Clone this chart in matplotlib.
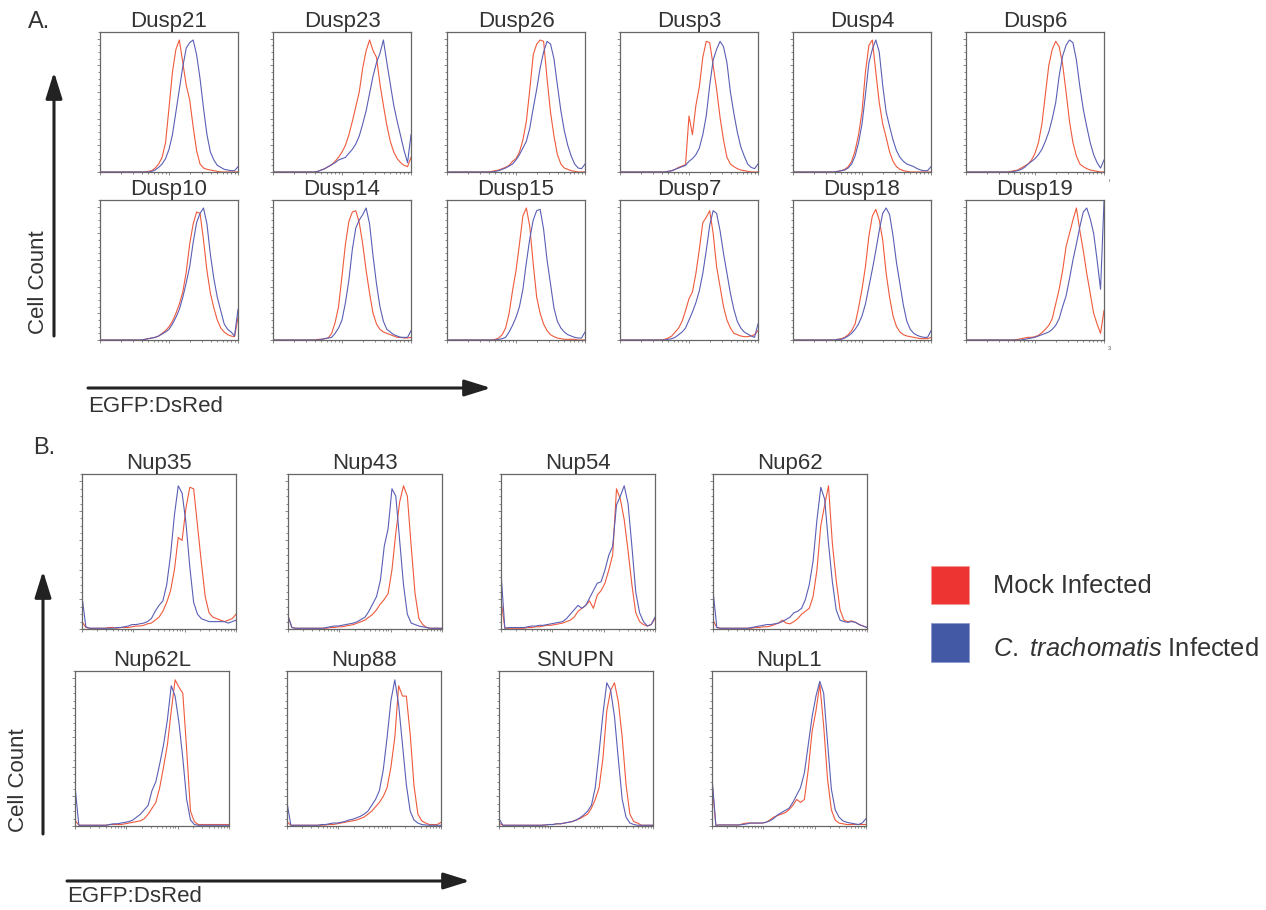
import numpy as np
import matplotlib.pyplot as plt
from matplotlib.patches import Rectangle
from matplotlib.ticker import LogLocator, MultipleLocator

plt.rcParams['font.family'] = ['Liberation Sans', 'DejaVu Sans']
plt.rcParams['mathtext.fontset'] = 'custom'
plt.rcParams['mathtext.it'] = 'Liberation Sans:italic'
plt.rcParams['mathtext.rm'] = 'Liberation Sans'

MOCK = '#ef5a3c'   # mock infected (red)
CT = '#5a5fb5'     # C. trachomatis infected (blue)
TXT = '#333333'

# channel positions (log scale): A panels span 2 decades, B panels 3 decades
bins_a = np.logspace(0, 2, 41)
bins_b = np.logspace(0, 3, 41)

# ---- panel A: Dusp reporters (% of max) ----
dusp21_mock = [0,0,0,0,0,0,0,0,0,0, 0,0,0,0,0.5,1,3,6,11,22, 48,75,92,99,82,65,54,34,16,6, 3,2,1.5,1,0.5,0,0,0,0,0,0]
dusp21_ct = [0,0,0,0,0,0,0,0,0,0, 0,0,0,0,0,0.5,1.5,3.5,6,10, 17,28,45,62,79,93,97,99,88,70, 48,28,15,9,5,3.5,2,1.5,1,1,4]
dusp23_mock = [0,0,0,0,0,0,0,0,0,0, 0,0,0,0.5,1.5,2.5,4,5.5,8,11, 15,20,28,38,49,60,78,91,99,91, 86,66,50,35,23,15,10,7,5,4,11]
dusp23_ct = [0,0,0,0,0,0,0,0,0,0, 0,0,0,0.5,1.5,2.5,4,5.5,7,9, 10,11,14,17,21,27,36,46,59,72, 82,89,99,82,66,50,38,27,16,7,28]
dusp26_mock = [0,0,0,0,0,0,0,0,0,0, 0,0,0,0.5,1,1.5,2.5,3.5,5,8, 10,15,24,38,62,88,96,99,98,70, 45,27,13,6,3,2,1,0.5,0,0,0]
dusp26_ct = [0,0,0,0,0,0,0,0,0,0, 0,0,0,0,0.5,1,2,3,4.5,6, 9,13,18,23,33,48,62,78,90,98, 96,85,65,46,31,20,12,6,3,2.5,6]
dusp3_mock = [0,0,0,0,0,0,0,0,0,0, 0,0,0,0,0.5,1,2,3.5,4.5,5.5, 42,28,50,64,86,98,97,80,62,41, 24,11,6,4,2.5,1.5,1,0.5,0,0,0]
dusp3_ct = [0,0,0,0,0,0,0,0,0,0, 0,0,0,0,0.5,1,2,3,4,5, 8,10,13,18,28,42,65,84,92,98, 94,82,60,44,30,19,12,6,3.5,2.5,6]
dusp4_mock = [0,0,0,0,0,0,0,0,0,0, 0,0,0,0.5,1,2,4,8,16,28, 45,75,95,99,75,52,36,26,15,8, 4,2,1,0.5,0,0,0,0,0,0,0]
dusp4_ct = [0,0,0,0,0,0,0,0,0,0, 0,0,0,0.5,1,1.5,3,6,12,22, 36,58,82,92,99,90,65,45,34,24, 16,11,8,6,5,4,2.5,1.5,1,1,4]
dusp6_mock = [0,0,0,0,0,0,0,0,0,0, 0,0,0,0.5,1,1.5,3,4.5,6,9, 14,22,36,58,80,92,98,94,81,60, 38,22,12,6,4,2.5,1.5,1,0.5,0,0]
dusp6_ct = [0,0,0,0,0,0,0,0,0,0, 0,0,0,0,0.5,1,2,3.5,6,8, 10,13,17,23,30,40,52,72,87,95, 99,97,84,64,47,34,22,13,7,3,9]
dusp10_mock = [0,0,0,0,0,0,0,0,0,0, 0,0,0,0.5,1,1.5,2,3,5,7, 10,14,20,27,36,51,72,87,96,95, 75,52,35,24,15,9,6,4,3,2.5,17]
dusp10_ct = [0,0,0,0,0,0,0,0,0,0, 0,0,0,0.5,1,1.5,2,3,4.5,6, 8,12,17,23,32,43,55,73,88,95, 99,87,64,46,32,22,12,8,6,3,23]
dusp14_mock = [0,0,0,0,0,0,0,0,0,0, 0,0,0,0.5,0.5,1,1.5,5,13,25, 48,72,89,96,97,88,72,52,35,20, 12,8,6,5,4,3,2,2,1.5,1.5,2]
dusp14_ct = [0,0,0,0,0,0,0,0,0,0, 0,0,0,0,0.5,1,1.5,2,5,9, 15,28,45,68,84,90,94,99,87,63, 42,25,14,8,6,4,3,2,2,2,7]
dusp15_mock = [0,0,0,0,0,0,0,0,0,0, 0,0,0,0,0.5,1.5,4,9,20,37, 52,72,93,99,85,57,32,20,12,7, 4,2.5,1.5,1,0.5,0.5,0.5,0.5,0,0,0]
dusp15_ct = [0,0,0,0,0,0,0,0,0,0, 0,0,0,0,0,0.5,1,2,6,11, 17,25,38,58,76,90,97,98,83,60, 42,24,14,9,6,4,3,2,1.5,1.5,6]
dusp7_mock = [0,0,0,0,0,0,0,0,0,0, 0,0,0,0.5,1.5,3,6,9,14,22, 31,36,50,68,88,92,97,80,55,40, 25,15,9,5,4,3,2.5,2.5,3,4,7]
dusp7_ct = [0,0,0,0,0,0,0,0,0,0, 0,0,0,0,0.5,1,2,4,6,9, 15,21,28,37,50,67,86,97,95,82, 65,50,35,23,14,9,6,4.5,3,2,12]
dusp18_mock = [0,0,0,0,0,0,0,0,0,0, 0,0,0,0.5,1,2,4,7,12,24, 38,55,78,93,98,90,75,50,32,18, 10,6,4,3,2.5,2,1.5,1,1,1,2]
dusp18_ct = [0,0,0,0,0,0,0,0,0,0, 0,0,0,0.5,0.5,1.5,3,5,8,12, 18,27,40,53,67,82,95,99,94,78, 58,42,26,14,8,5,3.5,2.5,2,2,7]
dusp19_mock = [0,0,0,0,0,0,0,0,0,0, 0,0,0,0,0,0.5,1,1.5,2,2, 2.5,3.5,5.5,8,11,16,27,38,52,70, 80,90,99,82,67,50,35,20,12,5,22]
dusp19_ct = [0,0,0,0,0,0,0,0,0,0, 0,0,0,0,0,0,0,0.5,1,1.5, 2,3,4,5,6,8,11,16,25,33, 46,60,72,85,96,99,91,80,60,38,104]

# ---- panel B: Nup reporters (% of max) ----
nup35_mock = [5,1,0.5,0.5,0.5,0.5,0.5,1,1,0.5, 1,1,1,1.5,2,2,2.5,3.5,4,6, 8,12,18,26,40,62,60,82,96,95, 70,45,22,11,8,7,6,5,6,7,10]
nup35_ct = [22,1.5,0.5,0.5,0.5,0.5,0.5,0.5,0.5,1, 1,1.5,2,3,3,3.5,4,5,7,12, 16,19,30,50,77,97,92,72,42,18, 10,7,6,5,5,5,5,5,4,5,6]
nup43_mock = [9,1,0.5,0.5,0.5,0.5,0.5,0.5,0.5,0.5, 0.5,1,1,1.5,1.5,2,2.5,3,4,5, 6,8,10,13,17,20,24,40,65,86, 97,90,56,24,7,3,1,0.5,0.5,0.5,0.5]
nup43_ct = [9,1,0.5,0.5,0.5,0.5,0.5,0.5,0.5,0.5, 1,1.5,2,2,2.5,3,3.5,4,5,6.5, 8,12,17,22,33,56,68,95,90,60, 30,10,4,3,2,1.5,1,0.5,0.5,0.5,0.5]
nup54_mock = [20,0.5,0.5,0.5,0.5,0.5,0.5,1,1,1.5, 1.5,2,2.5,2.5,3,3.5,4,5,6,8, 12,14,16,19,14,23,26,31,40,50, 95,88,74,53,30,11,5,3,2,3,7]
nup54_ct = [38,0.5,1,1,1,1,1,1.5,2,2, 2.5,2.5,3,3.5,4,4.5,5,7,10,13, 16,14,16,21,26,31,32,40,50,56, 84,90,97,85,56,25,11,5,2,3,8]
nup62_mock = [6,1,0.5,0.5,0.5,0.5,0.5,0.5,0.5,0.5, 0.5,1,1,1.5,1.5,2,3,4,6,4, 3.5,5,7,10,12,14,22,40,70,84, 97,58,33,13,6,5,5.5,4.5,3,2,1]
nup62_ct = [26,1,0.5,0.5,0.5,0.5,0.5,0.5,0.5,0.5, 1,1.5,2,2.5,3,3,3.5,4,5,6.5, 8,11,12,14,20,30,46,74,96,88, 58,32,13,6,5,4.5,5,4.5,3,2,1]
nup62l_mock = [4,0.5,0.5,0.5,0.5,0.5,0.5,0.5,0.5,1, 1,1,1,1.5,2,2.5,3,3.5,5,8, 12,16,26,40,55,78,99,94,90,52, 10,3,1,1,1,1,1,1,1,1,1]
nup62l_ct = [27,0.5,0.5,0.5,0.5,0.5,0.5,0.5,0.5,1, 1.5,1.5,2,2.5,3,4,6,8,11,14, 24,30,42,55,72,95,88,70,46,18, 4,1,0.5,0.5,0.5,0.5,0.5,0.5,0.5,0.5,0.5]
nup88_mock = [3,0.5,0.5,0.5,0.5,0.5,0.5,0.5,0.5,0.5, 0.7,1,1,1.5,2,2.5,3,3.5,4,5, 6,8,10,13,16,20,26,40,60,95, 88,88,62,27,8,3.5,2,1,1,1,2.5]
nup88_ct = [16,0.5,0.5,0.5,0.5,0.5,0.5,0.5,0.5,1, 1,1.5,2,2,2.5,3,4,4.5,5.5,6.5, 8,10,14,18,24,38,60,85,99,82, 55,28,10,4,2,1,0.7,0.5,0.5,0.5,0.5]
snupn_mock = [2,0.5,0.5,0.5,0.5,0.5,0.5,0.5,0.5,0.5, 0.5,0.5,0.7,1,1,1.5,1.5,2,2.5,3, 4,5,6.5,8,12,18,26,46,78,92, 97,84,60,28,8,3,2,0.5,0.5,0.5,0.5]
snupn_ct = [5,0.5,0.5,0.5,0.5,0.5,0.5,0.5,0.5,0.5, 0.5,0.5,0.7,1,1,1.5,1.5,2,2.5,3, 4,5.5,7.5,10,14,26,50,76,97,92, 74,45,18,6,2,1,0.5,0.5,0.5,0.5,0.5]
nupl1_mock = [30,0.5,0.7,0.7,0.7,0.7,0.7,0.7,1.5,2, 2,2,2,2,2.5,4,6,7,8,9, 11,14,18,16,18,38,64,78,96,68, 32,11,4,2,1.5,1,1,1,1,1,1]
nupl1_ct = [33,0.5,0.7,0.7,0.7,0.7,0.7,0.7,1,1.4, 2,2,2,2,2.5,3.5,5,7.5,9,10.5, 12,16,21,26,36,55,74,88,98,90, 57,25,11,6,3.5,2.5,2,1.5,1,2,5]

a_titles = ['Dusp21', 'Dusp23', 'Dusp26', 'Dusp3', 'Dusp4', 'Dusp6',
            'Dusp10', 'Dusp14', 'Dusp15', 'Dusp7', 'Dusp18', 'Dusp19']
a_mock = [dusp21_mock, dusp23_mock, dusp26_mock, dusp3_mock, dusp4_mock, dusp6_mock,
          dusp10_mock, dusp14_mock, dusp15_mock, dusp7_mock, dusp18_mock, dusp19_mock]
a_ct = [dusp21_ct, dusp23_ct, dusp26_ct, dusp3_ct, dusp4_ct, dusp6_ct,
        dusp10_ct, dusp14_ct, dusp15_ct, dusp7_ct, dusp18_ct, dusp19_ct]

b_titles = ['Nup35', 'Nup43', 'Nup54', 'Nup62', 'Nup62L', 'Nup88', 'SNUPN', 'NupL1']
b_mock = [nup35_mock, nup43_mock, nup54_mock, nup62_mock,
          nup62l_mock, nup88_mock, snupn_mock, nupl1_mock]
b_ct = [nup35_ct, nup43_ct, nup54_ct, nup62_ct,
        nup62l_ct, nup88_ct, snupn_ct, nupl1_ct]

W, H = 1266, 910
fig = plt.figure(figsize=(W / 100, H / 100), dpi=100)


def px_axes(left, top, width, height):
    # place an axes using pixel coords measured from the top-left corner
    return fig.add_axes([left / W, 1 - (top + height) / H, width / W, height / H])


def histogram(ax, x, mock, ct, title, ndec, pad):
    ax.plot(x, mock, color=MOCK, lw=0.8)
    ax.plot(x, ct, color=CT, lw=0.8)
    ax.set_xscale('log')
    ax.set_xlim(1, 10 ** ndec)
    ax.set_ylim(0, 105)
    ax.set_xticks([10 ** k for k in range(ndec + 1)])
    ax.xaxis.set_minor_locator(LogLocator(base=10, subs=np.arange(2, 10)))
    ax.yaxis.set_major_locator(MultipleLocator(20))
    ax.yaxis.set_minor_locator(MultipleLocator(5))
    ax.tick_params(which='both', direction='out', colors='#777777', width=0.6,
                   labelleft=False, labelbottom=False)
    ax.tick_params(which='major', length=2.5)
    ax.tick_params(which='minor', length=1.3)
    for s in ax.spines.values():
        s.set_color('#666666')
        s.set_linewidth(0.9)
    ax.set_title(title, fontsize=16, color=TXT, pad=pad)


# panel A grid
a_left = [100, 273, 447, 620, 793, 966]
a_top = [32, 200]
for k in range(12):
    r, c = divmod(k, 6)
    ax = px_axes(a_left[c], a_top[r], 138, 140)
    histogram(ax, bins_a, a_mock[k], a_ct[k], a_titles[k], 2, 2)

# panel B grid
b_left = [[82, 288, 501, 713], [75, 287, 499, 712]]
b_top = [474, 671]
for k in range(8):
    r, c = divmod(k, 4)
    ax = px_axes(b_left[r][c], b_top[r], 154, 155)
    histogram(ax, bins_b, b_mock[k], b_ct[k], b_titles[k], 3, 3)

# overlay for labels, arrows and legend (pixel coordinates)
ov = fig.add_axes([0, 0, 1, 1], zorder=-1)
ov.set_xlim(0, W)
ov.set_ylim(H, 0)
ov.axis('off')

arrow = dict(arrowstyle='-|>,head_length=0.8,head_width=0.25', lw=2.2,
             color='#222222', mutation_scale=20, shrinkA=0, shrinkB=0)

ov.text(28, 22, 'A.', fontsize=17, color=TXT, va='center', ha='left')
ov.annotate('', xy=(54, 72), xytext=(54, 336), arrowprops=arrow)
ov.text(39, 282, 'Cell Count', fontsize=16, color=TXT, rotation=90, ha='center', va='center')
ov.annotate('', xy=(491, 388), xytext=(88, 388), arrowprops=arrow)
ov.text(88, 407, 'EGFP:DsRed', fontsize=16, color=TXT, ha='left', va='center')

ov.text(33, 448, 'B.', fontsize=17, color=TXT, va='center', ha='left')
ov.annotate('', xy=(43, 571), xytext=(43, 834), arrowprops=arrow)
ov.text(19, 780, 'Cell Count', fontsize=16, color=TXT, rotation=90, ha='center', va='center')
ov.annotate('', xy=(470, 881), xytext=(67, 881), arrowprops=arrow)
ov.text(67, 897, 'EGFP:DsRed', fontsize=16, color=TXT, ha='left', va='center')

# stray marks from the original export
ov.text(1109, 348, '3', fontsize=4, color='#555555', ha='center', va='center')
ov.text(1109, 180, 'ı', fontsize=4, color='#555555', ha='center', va='center')

# legend
ov.add_patch(Rectangle((931, 566), 38, 38, fc='#ee3433', ec='#f39a90', lw=0.6))
ov.add_patch(Rectangle((931, 623), 38, 39, fc='#4459a5', ec='#8f9ad0', lw=0.6))
ov.text(993, 586, 'Mock Infected', fontsize=18.3, color=TXT, ha='left', va='center')
ov.text(993, 649, r'$\mathit{C.\ trachomatis}$ Infected', fontsize=18.3, color=TXT,
        ha='left', va='center')

fig.savefig('out.png', dpi=100)
